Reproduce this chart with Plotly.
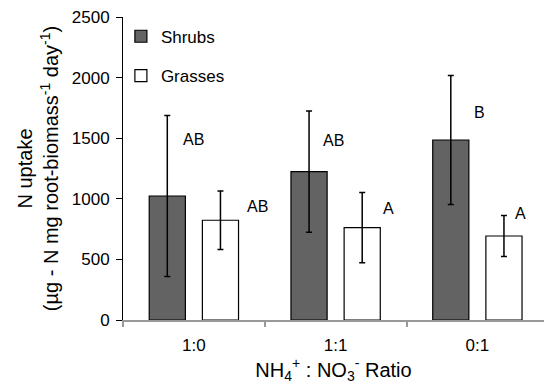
import plotly.graph_objects as go

categories = ["1:0", "1:1", "0:1"]
shrubs = [1023, 1224, 1485]
shrubs_err = [665, 500, 532]
grasses = [823, 762, 693]
grasses_err = [241, 289, 169]

shrub_letters = ["AB", "AB", "B"]
grass_letters = ["AB", "A", "A"]
# label placement (value-axis height of each letter)
shrub_letter_y = [1493, 1485, 1708]
grass_letter_y = [940, 916, 877]
shrub_letter_dx = [-0.09, -0.10, -0.04]
grass_letter_dx = [0.36, 0.32, 0.25]

FONT = "Liberation Sans, Arial, Helvetica, sans-serif"

fig = go.Figure()
fig.add_trace(go.Bar(
    x=categories, y=shrubs, name="Shrubs",
    marker=dict(color="#636363", line=dict(color="#000000", width=1.2)),
    error_y=dict(type="data", array=shrubs_err, color="#000000", thickness=1.5, width=3),
    legend="legend",
))
fig.add_trace(go.Bar(
    x=categories, y=grasses, name="Grasses",
    marker=dict(color="#ffffff", line=dict(color="#000000", width=1.2)),
    error_y=dict(type="data", array=grasses_err, color="#000000", thickness=1.5, width=3),
    legend="legend2",
))

for i in range(len(categories)):
    fig.add_annotation(x=i + shrub_letter_dx[i], y=shrub_letter_y[i], text=shrub_letters[i],
                       xref="x", yref="y", xanchor="left", yanchor="middle",
                       showarrow=False, font=dict(size=16, color="#000000", family=FONT))
    fig.add_annotation(x=i + grass_letter_dx[i], y=grass_letter_y[i], text=grass_letters[i],
                       xref="x", yref="y", xanchor="left", yanchor="middle",
                       showarrow=False, font=dict(size=16, color="#000000", family=FONT))

legend_common = dict(font=dict(size=17, color="#000000", family=FONT),
                     bgcolor="rgba(0,0,0,0)", xanchor="left", yanchor="middle",
                     itemwidth=30)
fig.update_layout(
    template="none",
    width=544, height=387,
    margin=dict(l=123, r=0, t=17, b=67, autoexpand=False),
    paper_bgcolor="white", plot_bgcolor="white",
    font=dict(family=FONT, color="#000000"),
    barmode="group", bargap=0.25, bargroupgap=0.32,
    showlegend=True,
    legend=dict(x=-0.005, y=0.935, **legend_common),
    legend2=dict(x=-0.005, y=0.805, **legend_common),
    xaxis=dict(
        type="category", range=[-0.5, 2.47], automargin=False,
        showline=True, linecolor="#999999", linewidth=2,
        ticks="outside", tickson="boundaries", ticklen=5, tickcolor="#999999", tickwidth=1.5,
        tickfont=dict(size=17, color="#000000"), ticklabelstandoff=9,
        title=dict(text="NH<sub>4</sub><sup>+</sup> : NO<sub>3</sub><sup>-</sup> Ratio",
                   font=dict(size=20, color="#000000"), standoff=7),
        showgrid=False, zeroline=False,
    ),
    yaxis=dict(
        range=[0, 2500], dtick=500, automargin=False,
        showline=True, linecolor="#000000", linewidth=1,
        ticks="outside", ticklen=6, tickcolor="#000000", tickwidth=1,
        tickfont=dict(size=17, color="#000000"), ticklabelstandoff=3,
        title=dict(text="N uptake<br>(µg - N mg root-biomass<sup>-1</sup> day<sup>-1</sup>)",
                   font=dict(size=20, color="#000000"), standoff=7),
        showgrid=False, zeroline=False,
    ),
)

fig.write_html("out.html", config={"displayModeBar": False},
               post_script="document.body.style.margin='0';document.body.style.overflow='hidden';")
